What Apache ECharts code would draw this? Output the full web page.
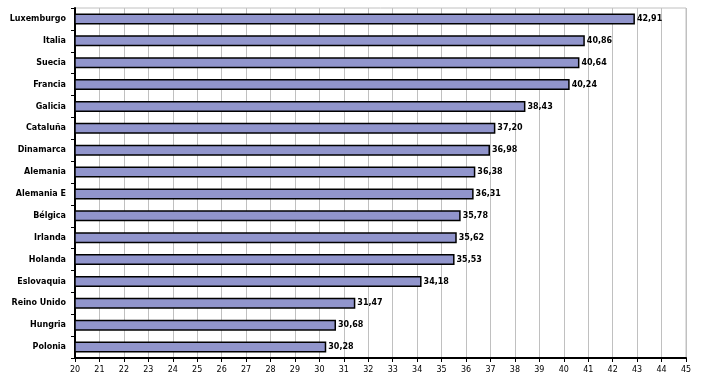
<!DOCTYPE html>
<html><head><meta charset="utf-8">
<script src="https://cdn.jsdelivr.net/npm/echarts@6/dist/echarts.min.js"></script>
<style>html,body{margin:0;padding:0;background:#fff}#c{width:701px;height:388px}</style>
</head><body><div id="c"></div>
<script>
const categories = ["Luxemburgo","Italia","Suecia","Francia","Galicia","Cataluña","Dinamarca","Alemania","Alemania E","Bélgica","Irlanda","Holanda","Eslovaquia","Reino Unido","Hungria","Polonia"];
const values = [42.91,40.86,40.64,40.24,38.43,37.20,36.98,36.38,36.31,35.78,35.62,35.53,34.18,31.47,30.68,30.28];
const axisMin = 20, axisMax = 45, axisStep = 1;

const chart = echarts.init(document.getElementById('c'), null, {renderer:'canvas'});
const font = 'Verdana, "DejaVu Sans", sans-serif';
chart.setOption({
  animation:false,
  grid:{left:75,right:15,top:8,bottom:30,show:true,borderColor:'#c0c0c0',borderWidth:1},
  xAxis:{type:'value',min:axisMin,max:axisMax,interval:axisStep,
    axisLine:{show:true,lineStyle:{color:'#000',width:2}},
    axisTick:{show:true,length:4,lineStyle:{color:'#000'}},
    axisLabel:{color:'#000',fontFamily:font,fontSize:8,margin:8},
    splitLine:{show:true,lineStyle:{color:'#c0c0c0',width:1}}},
  yAxis:{type:'category',data:categories,inverse:true,
    axisLine:{show:true,lineStyle:{color:'#000',width:2}},
    axisTick:{show:true,length:4,lineStyle:{color:'#000'}},
    axisLabel:{color:'#000',fontFamily:font,fontSize:8,fontWeight:'bold',margin:9},
    splitLine:{show:false}},
  series:[{type:'bar',data:values,barWidth:11,
    itemStyle:{color:'#9195cc',borderColor:'#000',borderWidth:1.5},
    label:{show:true,position:'right',distance:2,color:'#000',fontFamily:font,fontSize:8,fontWeight:'bold',
      formatter:p=>p.value.toFixed(2).replace('.',',')}}]
});
</script></body></html>
